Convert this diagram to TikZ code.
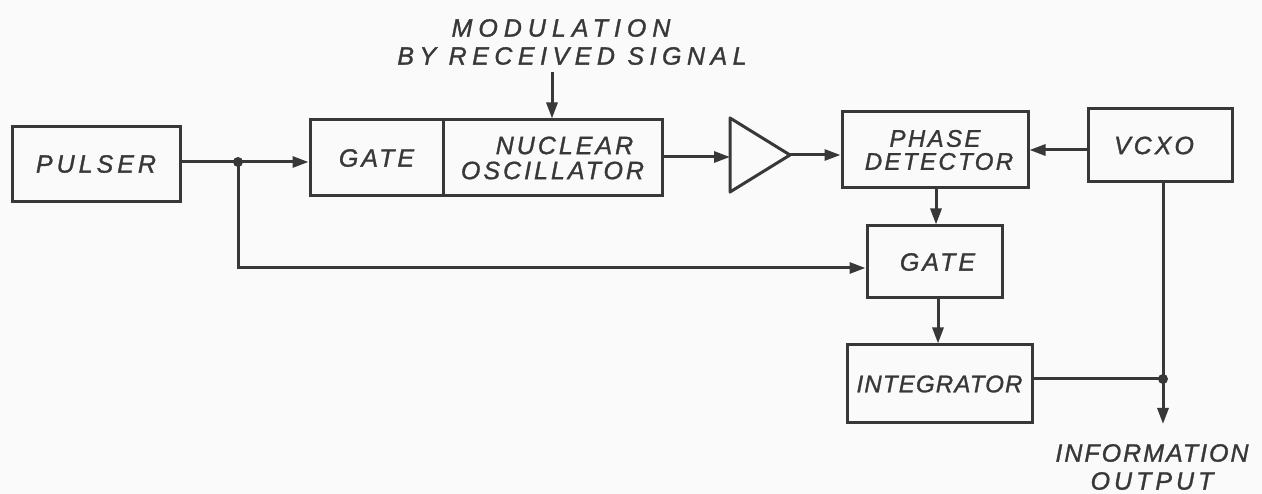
\documentclass[tikz,border=0pt]{standalone}
\usepackage{fontspec}
\newfontfamily\hand[FakeBold=1.2]{Liberation Sans}
\usetikzlibrary{arrows.meta}
\definecolor{ink}{HTML}{383838}
\definecolor{paper}{HTML}{FAFAFA}
\newcommand{\ls}[1]{\addfontfeature{LetterSpace=#1}}
\tikzset{
  blk/.style={draw=ink, line width=3pt, rectangle, inner sep=0pt, align=center,
    font=\hand\itshape\fontsize{25}{25}\selectfont\ls{12}, text=ink},
  wire/.style={draw=ink, line width=3pt},
  arr/.style={wire, -{Triangle[length=16pt,width=11pt]}},
  lbl/.style={font=\hand\itshape\fontsize{25}{28}\selectfont, text=ink, align=center, inner sep=0pt},
  dot/.style={circle, fill=ink, minimum size=10pt, inner sep=0pt}
}
\begin{document}
\begin{tikzpicture}[x=1pt,y=-1pt]
\fill[paper] (0,0) rectangle (1262,494);
\useasboundingbox (0,0) rectangle (1262,494);

% blocks
\node[blk, minimum width=168pt, minimum height=75pt] (pulser) at (96,164) {\ls{16}PULSER};
\node[blk, minimum width=133pt, minimum height=76pt] (gate1) at (376.5,158) {GATE};
\node[blk, minimum width=219pt, minimum height=76pt] (nosc) at (552.5,158) {\hspace*{24pt}NUCLEAR\\OSCILLATOR};
\node[blk, minimum width=186pt, minimum height=76pt, font=\hand\itshape\fontsize{24}{23}\selectfont\ls{10}] (pd) at (935,150) {PHASE\\\hspace*{8pt}DETECTOR};
\node[blk, minimum width=144pt, minimum height=73pt] (vcxo) at (1160,145.5) {\hspace*{-12pt}VCXO};
\node[blk, minimum width=135pt, minimum height=72pt] (gate2) at (934.5,262) {\hspace*{6pt}GATE};
\node[blk, minimum width=185pt, minimum height=78pt, font=\hand\itshape\fontsize{24}{24}\selectfont\ls{5}] (integ) at (939.5,384) {INTEGRATOR};

% amplifier
\coordinate (ampin) at (730,157);
\coordinate (ampout) at (790,155);
\draw[wire, line join=round] (730,118) -- (ampout) -- (730,192) -- cycle;

% labels
\node[lbl] (mod) at (572,42) {\ls{24}\hspace*{-22pt}MODULATION\\\ls{22}BY RECEIVED SIGNAL};
\coordinate (modend) at (552,72);
\node[lbl] (info) at (1152,467) {\ls{8}INFORMATION\\\ls{16}OUTPUT};

% junctions
\coordinate (j1) at (238,162);
\coordinate (j2) at (1163,379);
\coordinate (low) at (238,268);
\coordinate (out) at (1163,424);

% connectors
\draw[wire] (j1 -| pulser.east) -- (j1);
\draw[arr] (j1) -- (j1 -| gate1.west);
\draw[arr] (j1) -- (low) -- (low -| gate2.west);
\draw[arr] (modend) -- (nosc.north -| modend);
\draw[arr] (ampin -| nosc.east) -- (ampin);
\draw[arr] (ampout) -- (ampout -| pd.west);
\draw[arr] (vcxo.west |- 0,150) -- (pd.east |- 0,150);
\draw[arr] (pd.south -| 936,0) -- (gate2.north -| 936,0);
\draw[arr] (gate2.south -| 938,0) -- (integ.north -| 938,0);
\draw[wire] (integ.east |- j2) -- (j2);
\draw[wire] (vcxo.south -| j2) -- (j2);
\draw[arr] (j2) -- (out);
\node[dot] at (j1) {};
\node[dot] at (j2) {};
\end{tikzpicture}
\end{document}
